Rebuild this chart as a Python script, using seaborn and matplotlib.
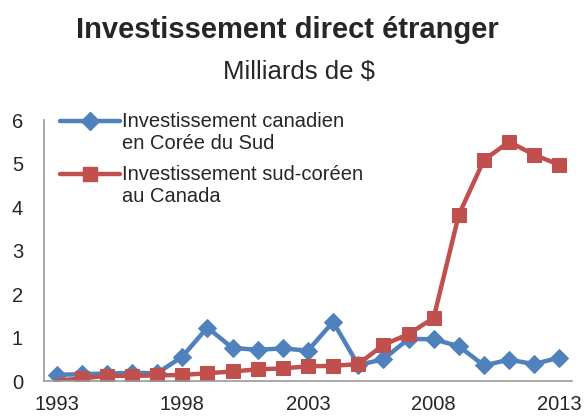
import numpy as np
import pandas as pd
import seaborn as sns
import matplotlib.pyplot as plt
from matplotlib.lines import Line2D
from matplotlib.legend_handler import HandlerLine2D

years = list(range(1993, 2014))
# Canadian investment in South Korea (billions $)
can_in_kor = [0.14, 0.16, 0.17, 0.19, 0.18, 0.56, 1.23, 0.76, 0.72, 0.75, 0.70,
              1.36, 0.37, 0.50, 0.97, 0.96, 0.80, 0.36, 0.49, 0.39, 0.54]
# South Korean investment in Canada (billions $)
kor_in_can = [0.01, 0.06, 0.12, 0.12, 0.13, 0.14, 0.18, 0.22, 0.27, 0.29, 0.34,
              0.35, 0.39, 0.83, 1.08, 1.45, 3.82, 5.08, 5.50, 5.20, 4.97]
labels = ["Investissement canadien\nen Corée du Sud",
          "Investissement sud-coréen\nau Canada"]
tick_years = [1993, 1998, 2003, 2008, 2013]

df = pd.DataFrame({"year": years, "can": can_in_kor, "kor": kor_in_can})

sns.set_style("white")
plt.rcParams['font.family'] = ['Liberation Sans', 'DejaVu Sans']

blue = "#4F81BD"
red = "#C0504D"


class TopLine(HandlerLine2D):
    # put the legend handle next to the first line of a two-line label
    def create_artists(self, legend, orig_handle, xdescent, ydescent, width,
                       height, fontsize, trans):
        arts = super().create_artists(legend, orig_handle, xdescent, ydescent,
                                      width, height, fontsize, trans)
        for a in arts:
            a.set_ydata(np.asarray(a.get_ydata()) + 0.6 * fontsize)
        return arts


fig = plt.figure(figsize=(5.86, 4.16), dpi=100)
ax = fig.add_axes([0.075, 0.084, 0.901, 0.6275])

sns.lineplot(data=df, x="year", y="can", ax=ax, color=blue, lw=3.2,
             marker="D", markersize=9, markeredgecolor=blue)
sns.lineplot(data=df, x="year", y="kor", ax=ax, color=red, lw=3.2,
             marker="s", markersize=10, markeredgecolor=red,
             markevery=list(range(1, len(years))))

ax.set_xlim(1992.5, 2013.5)
ax.set_ylim(0, 6)
ax.set_xticks(tick_years)
ax.set_yticks(range(0, 7))
ax.set_xlabel("")
ax.set_ylabel("")
ax.tick_params(labelsize=14.5, length=0)
ax.tick_params(axis="y", pad=15)
ax.tick_params(axis="x", pad=10)
for s in ["top", "right"]:
    ax.spines[s].set_visible(False)
for s in ["left", "bottom"]:
    ax.spines[s].set_color("#999999")
    ax.spines[s].set_linewidth(1.2)

handles = [Line2D([], [], color=blue, lw=3.2, marker="D", markersize=9),
           Line2D([], [], color=red, lw=3.2, marker="s", markersize=10)]
ax.legend(handles, labels, loc="upper left", bbox_to_anchor=(0.015, 1.06),
          frameon=False, fontsize=14.5, handlelength=3.0, handletextpad=0.1,
          labelspacing=0.6, borderaxespad=0,
          handler_map={Line2D: TopLine()})

fig.text(0.49, 0.928, "Investissement direct étranger", ha="center", va="center",
         fontsize=21, fontweight="bold")
fig.text(0.51, 0.828, "Milliards de $", ha="center", va="center", fontsize=18.5)

fig.savefig("out.png", dpi=100)
